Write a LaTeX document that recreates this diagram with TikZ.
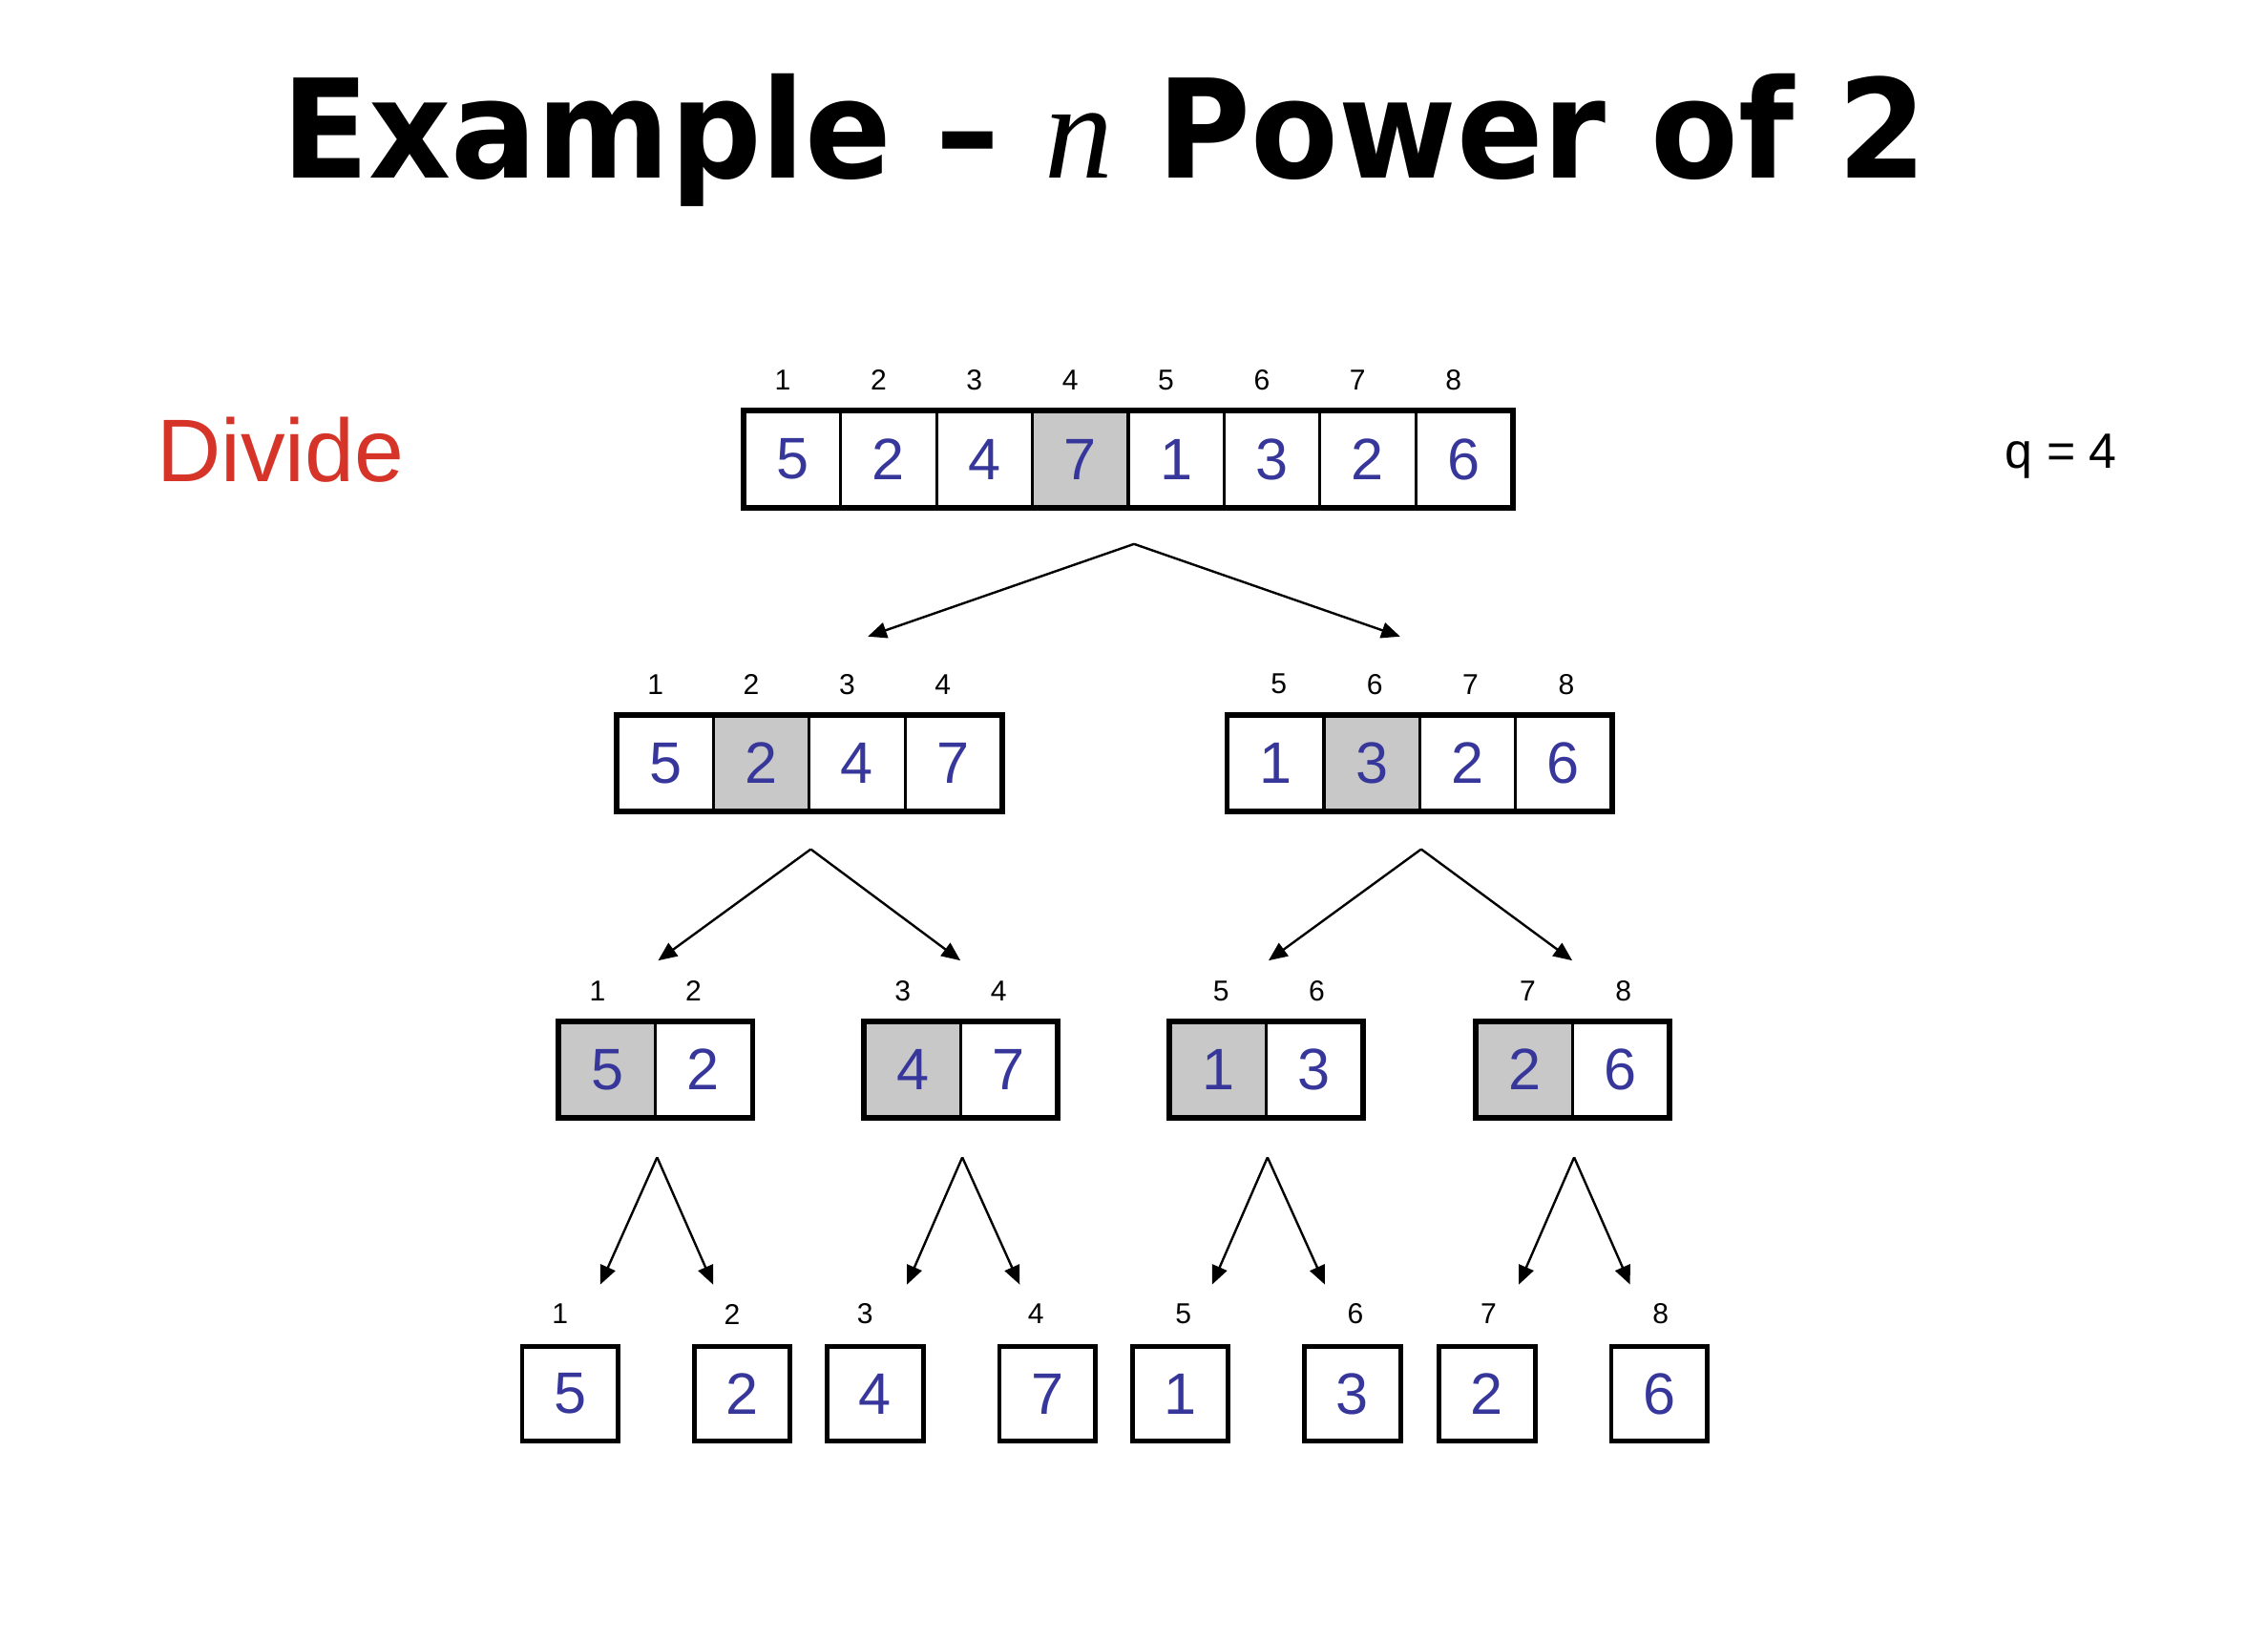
\documentclass[tikz,border=0pt]{standalone}
\usepackage{fontspec}
\setmainfont{Liberation Sans}
\newfontfamily\titlefont{DejaVu Sans}[FakeStretch=0.93]
\newfontfamily\varfont{Liberation Serif}
\usetikzlibrary{arrows.meta,calc}
\definecolor{numcol}{RGB}{55,55,155}
\definecolor{divcol}{RGB}{214,52,40}
\definecolor{pivcol}{RGB}{200,200,200}

\tikzset{
  cell/.style={draw,line width=1.2pt,minimum width=1.325cm,minimum height=1.3cm,
    inner sep=0pt,text=numcol,font=\fontsize{23}{23}\selectfont},
  idx/.style={inner sep=0pt,font=\fontsize{11.3}{11.3}\selectfont},
  rowframe/.style={line width=1.8pt},
  split/.style={-{Triangle[length=0.26cm,width=0.22cm]},line width=0.9pt},
}

% one row of cells: name, left, top, first index, label shift, value/fill list
\newcommand{\cellrow}[6]{%
  \foreach \val/\fil [count=\cidx from 0] in {#6}{
    \pgfmathtruncatemacro{\pos}{#4+\cidx}
    \node[cell,fill=\fil] (#1\cidx) at ({#2+33.125+66.25*\cidx},{#3+32.5}) {\val};
    \node[idx] (#1i\cidx) at ([xshift=#5*0.02cm,yshift=0.42cm]#1\cidx.north) {\pos};
  }}

\begin{document}
\begin{tikzpicture}[x=0.02cm,y=-0.02cm]
  \useasboundingbox (0,0) rectangle (1568,1134);

  \node[anchor=base,inner sep=0pt,font=\titlefont\bfseries\fontsize{54}{54}\selectfont]
    (title) at (763.5,123) {Example – {\varfont\itshape\mdseries n} Power of 2};
  \node[anchor=base west,inner sep=0pt,text=divcol,font=\fontsize{35}{35}\selectfont]
    (divide) at (108,333) {Divide};
  \node[anchor=base west,inner sep=0pt,font=\fontsize{19.5}{19.5}\selectfont]
    (qval) at (1386,324) {q = 4};

  % levels 1-3
  \cellrow{t}{515}{285}{1}{-7}{5/white,2/white,4/white,7/pivcol,1/white,3/white,2/white,6/white}
  \cellrow{l}{427}{495}{1}{-7}{5/white,2/pivcol,4/white,7/white}
  \cellrow{r}{849}{495}{5}{2}{1/white,3/pivcol,2/white,6/white}
  \cellrow{ll}{387}{707}{1}{-7}{5/pivcol,2/white}
  \cellrow{lr}{598}{707}{3}{-7}{4/pivcol,7/white}
  \cellrow{rl}{809}{707}{5}{2}{1/pivcol,3/white}
  \cellrow{rr}{1021}{707}{7}{2}{2/pivcol,6/white}
  \draw[rowframe,line width=2.4pt] (t0.north west) rectangle (t7.south east);
  \draw[rowframe] (l0.north west) rectangle (l3.south east);
  \draw[rowframe] (r0.north west) rectangle (r3.south east);
  \draw[rowframe] (ll0.north west) rectangle (ll1.south east);
  \draw[rowframe] (lr0.north west) rectangle (lr1.south east);
  \draw[rowframe] (rl0.north west) rectangle (rl1.south east);
  \draw[rowframe] (rr0.north west) rectangle (rr1.south east);

  % level 4, single cells
  \foreach \x/\val/\sh [count=\pos] in {361/5/-7,480/2/-7,572/4/-7,691/7/-8,
                                        783/1/2,902/3/2,995/2/1,1114/6/1}{
    \node[cell,rowframe,fill=white] (s\pos) at ({\x+33.125},963.5) {\val};
    \node[idx] (si\pos) at ([xshift=\sh*0.02cm,yshift=0.42cm]s\pos.north) {\pos};
  }

  % split points
  \coordinate (ta) at ([xshift=0.06cm,yshift=-0.5cm]t3.south east);
  \coordinate (la) at ([yshift=-0.52cm]l1.south east);
  \coordinate (ra) at ([yshift=-0.52cm]r1.south east);
  \coordinate (lla) at ([yshift=-0.54cm]ll0.south east);
  \coordinate (lra) at ([yshift=-0.54cm]lr0.south east);
  \coordinate (rla) at ([yshift=-0.54cm]rl0.south east);
  \coordinate (rra) at ([yshift=-0.54cm]rr0.south east);
  % arrow tips
  \coordinate (tl) at (600,440);  \coordinate (tr) at (968,440);
  \coordinate (ll) at (455,664);  \coordinate (lr) at (664,664);
  \coordinate (rl) at (877,664);  \coordinate (rr) at (1087,664);
  \coordinate (lll) at (415,888); \coordinate (llr) at (493,888);
  \coordinate (lrl) at (627,888); \coordinate (lrr) at (705,888);
  \coordinate (rll) at (838,888); \coordinate (rlr) at (916,888);
  \coordinate (rrl) at (1050,888);\coordinate (rrr) at (1127,888);

  \draw[split] (ta) -- (tl);   \draw[split] (ta) -- (tr);
  \draw[split] (la) -- (ll);   \draw[split] (la) -- (lr);
  \draw[split] (ra) -- (rl);   \draw[split] (ra) -- (rr);
  \draw[split] (lla) -- (lll); \draw[split] (lla) -- (llr);
  \draw[split] (lra) -- (lrl); \draw[split] (lra) -- (lrr);
  \draw[split] (rla) -- (rll); \draw[split] (rla) -- (rlr);
  \draw[split] (rra) -- (rrl); \draw[split] (rra) -- (rrr);
\end{tikzpicture}
\end{document}
